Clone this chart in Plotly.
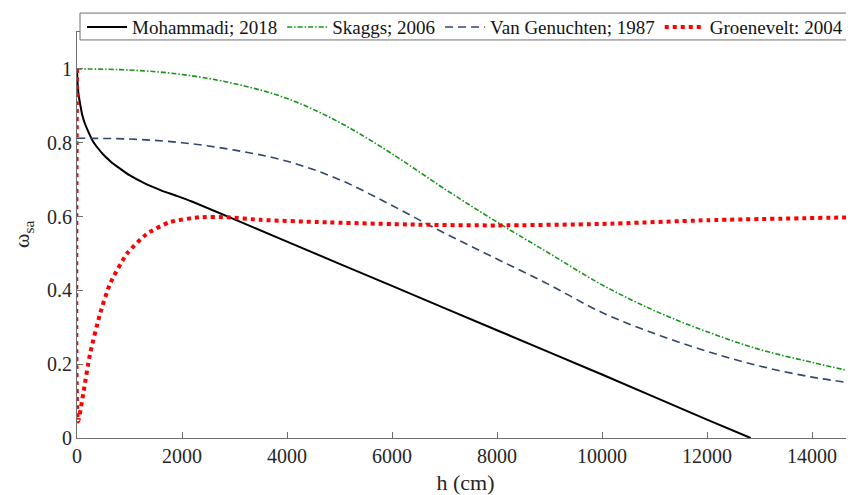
import plotly.graph_objects as go

# Mohammadi; 2018
moh_h = [0, 10, 30, 60, 100, 150, 200, 300, 400, 500, 650, 800, 1000, 1300, 1600, 1900, 2200,
         4000, 6000, 8000, 10000, 12000, 12832]
moh_w = [1.0, 0.965, 0.93, 0.905, 0.875, 0.852, 0.835, 0.805, 0.785, 0.768, 0.748, 0.732, 0.712,
         0.689, 0.671, 0.656, 0.640, 0.532, 0.412, 0.292, 0.172, 0.05, 0.0]

# Skaggs; 2006
skg_h = [0, 1000, 2000, 3000, 4000, 5000, 6000, 7000, 8000, 9000, 10000, 11000, 12000, 13000, 14000, 14800]
skg_w = [1.0, 0.997, 0.985, 0.96, 0.92, 0.855, 0.77, 0.675, 0.585, 0.50, 0.415, 0.345, 0.288, 0.24, 0.205, 0.179]

# Van Genuchten; 1987
vg_h = [0, 1000, 2000, 3000, 4000, 5000, 6000, 7000, 8000, 9000, 10000, 11000, 12000, 13000, 14000, 14800]
vg_w = [0.812, 0.81, 0.80, 0.78, 0.75, 0.70, 0.63, 0.555, 0.485, 0.415, 0.34, 0.283, 0.235, 0.195, 0.165, 0.148]

# Groenevelt: 2004
gr_h = [0, 20, 120, 250, 440, 630, 950, 1330, 1770, 2340, 2850, 3500, 4600, 6500, 8000, 10000, 12000, 14800]
gr_w = [1.0, 0.045, 0.121, 0.229, 0.337, 0.418, 0.499, 0.553, 0.585, 0.598, 0.598, 0.591, 0.585, 0.578, 0.576, 0.58, 0.59, 0.598]

x_ticks = [0, 2000, 4000, 6000, 8000, 10000, 12000, 14000]
y_ticks = [0, 0.2, 0.4, 0.6, 0.8, 1]
y_tick_labels = ["0", "0.2", "0.4", "0.6", "0.8", "1"]

FONT = "Times New Roman"
AX = "rgb(110,110,110)"

# page body has an 8px margin: figure is 846x487 so it fills the 854x495 window
W, H = 846, 487
ML, MR, MT, MB = 69, 0, 22, 57
PW, PH = W - ML - MR, H - MT - MB


def px_x(fx):
    return (fx - ML) / PW


def px_y(fy):
    return (H - MB - fy) / PH


fig = go.Figure()
fig.add_trace(go.Scatter(x=moh_h, y=moh_w, mode="lines", name="Mohammadi; 2018",
                         line=dict(color="black", width=2, shape="spline", smoothing=0.4)))
fig.add_trace(go.Scatter(x=skg_h, y=skg_w, mode="lines", name="Skaggs; 2006",
                         line=dict(color="rgb(20,150,20)", width=1.6, dash="5px,2px,1.5px,2px", shape="spline")))
fig.add_trace(go.Scatter(x=vg_h, y=vg_w, mode="lines", name="Van Genuchten; 1987",
                         line=dict(color="rgb(50,70,110)", width=1.6, dash="8px,5px", shape="spline")))
fig.add_trace(go.Scatter(x=gr_h, y=gr_w, mode="lines", name="Groenevelt: 2004",
                         line=dict(color="rgb(255,0,0)", width=4, dash="dot", shape="spline", smoothing=0.6)))

# legend frame
fig.add_shape(type="rect", xref="paper", yref="paper",
              x0=px_x(72), x1=px_x(843), y0=px_y(30), y1=px_y(3),
              line=dict(color=AX, width=1), fillcolor="white", layer="above")

# y-axis title
fig.add_annotation(text="ω<sub>sa</sub>", xref="paper", yref="paper",
                   x=px_x(15), y=px_y(226), xanchor="center", yanchor="middle",
                   textangle=-90, showarrow=False,
                   font=dict(family=FONT, size=22, color="rgb(38,38,38)"))

fig.update_layout(
    width=W, height=H,
    margin=dict(l=ML, r=MR, t=MT, b=MB),
    paper_bgcolor="white", plot_bgcolor="white",
    font=dict(family=FONT, size=20, color="rgb(38,38,38)"),
    showlegend=True,
    legend=dict(orientation="h", x=px_x(74), y=px_y(-2), xanchor="left", yanchor="top",
                bgcolor="rgba(0,0,0,0)", borderwidth=0, itemwidth=40,
                font=dict(family=FONT, size=19, color="rgb(20,20,20)"),
                tracegroupgap=0),
    xaxis=dict(range=[0, 14800], tickvals=x_ticks, ticktext=[str(v) for v in x_ticks],
               showgrid=False, zeroline=False, showline=True, linecolor=AX, mirror=True,
               linewidth=1, ticks="inside", ticklen=6, tickcolor=AX, automargin=False,
               tickfont=dict(family=FONT, size=20),
               title=dict(text="h (cm)", font=dict(family=FONT, size=22), standoff=14)),
    yaxis=dict(range=[0, 1.1], tickvals=y_ticks, ticktext=y_tick_labels,
               showgrid=False, zeroline=False, showline=True, linecolor=AX,
               linewidth=1, ticks="inside", ticklen=6, tickcolor=AX, automargin=False,
               tickfont=dict(family=FONT, size=20)),
)

fig.write_html("out.html")
